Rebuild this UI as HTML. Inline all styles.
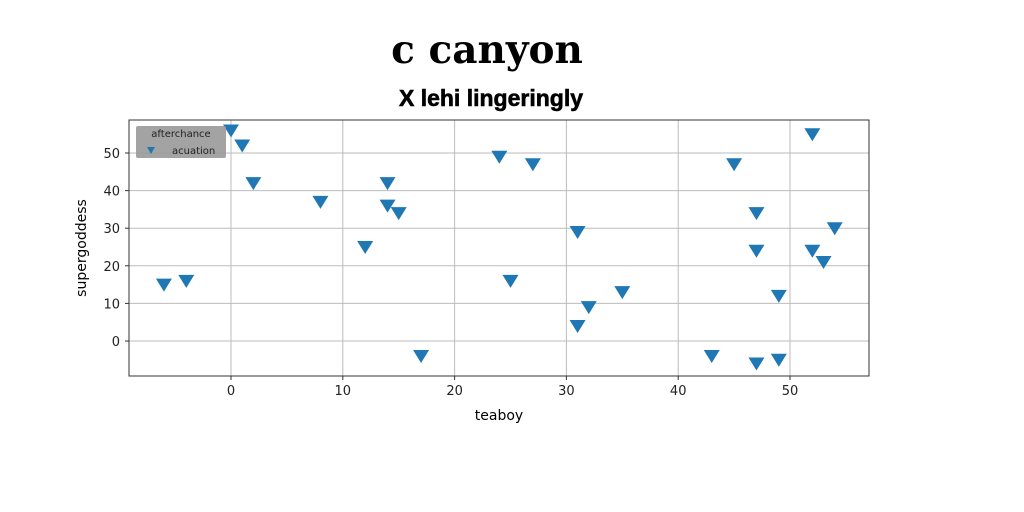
<!DOCTYPE html>
<html><head><meta charset="utf-8"><style>
body{margin:0;background:#fff;}
svg{display:block;font-family:"DejaVu Sans","Liberation Sans",sans-serif;}
</style></head><body>
<svg id="chart" width="1024" height="512" viewBox="0 0 1024 512">
<text x="487" y="63" text-anchor="middle" font-family="DejaVu Serif,Liberation Serif,serif" font-weight="bold" font-size="39">c canyon</text>
<text x="491" y="106" text-anchor="middle" font-family="Liberation Sans Narrow,Liberation Sans,sans-serif" font-weight="bold" font-size="23" stroke="#000" stroke-width="0.6">X lehi lingeringly</text>
<g id="grid"></g>
<g id="ticks"></g>
<rect x="129" y="120" width="740" height="256" fill="none" stroke="#333" stroke-width="1"/>
<g id="points"></g>
<text x="499" y="420" text-anchor="middle" font-size="14">teaboy</text>
<text x="86" y="248" text-anchor="middle" font-size="14" transform="rotate(-90 86 248)">supergoddess</text>
<g>
<rect x="136" y="126" width="90" height="32" rx="2" fill="#999" opacity="0.9"/>
<text x="181" y="137" text-anchor="middle" font-size="10" fill="#222">afterchance</text>
<path d="M147 147 L155 147 L151 154 Z" fill="#1f77b4"/>
<text x="172" y="154" font-size="10" fill="#222">acuation</text>
</g>
</svg>
<script>
const xs=[-6,-4,0,1,2,8,12,14,14,15,17,24,25,27,31,31,32,35,43,45,47,47,47,49,49,52,52,53,54];
const ys=[15,16,56,52,42,37,25,42,36,34,-4,49,16,47,29,4,9,13,-4,47,34,24,-6,12,-5,55,24,21,30];
const xTicks=[0,10,20,30,40,50];
const yTicks=[0,10,20,30,40,50];
const X=v=>231+v*11.18, Y=v=>341-v*3.76;
const NS="http://www.w3.org/2000/svg";
const g=document.getElementById('grid'),t=document.getElementById('ticks'),p=document.getElementById('points');
function mk(tag,a,par){const e=document.createElementNS(NS,tag);for(const k in a)e.setAttribute(k,a[k]);par.appendChild(e);return e;}
xTicks.forEach(v=>{
 const l=mk('line',{x1:X(v),x2:X(v),y1:120,y2:376,stroke:'#bbb','stroke-width':1},g);
 
 
 mk('line',{x1:X(v),x2:X(v),y1:376,y2:380,stroke:'#333'},t);
 const s=mk('text',{x:X(v),y:395,'text-anchor':'middle','font-size':13,fill:'#222'},t);s.textContent=v;
 
 
});
yTicks.forEach(v=>{
 const l=mk('line',{x1:129,x2:869,y1:Y(v),y2:Y(v),stroke:'#bbb','stroke-width':1},g);
 
 
 mk('line',{x1:125,x2:129,y1:Y(v),y2:Y(v),stroke:'#333'},t);
 const s=mk('text',{x:120,y:Y(v)+5,'text-anchor':'end','font-size':13,fill:'#222'},t);s.textContent=v;
 
 
});
xs.forEach((v,i)=>{
 const cx=X(v),cy=Y(ys[i]);
 const e=mk('path',{d:`M${cx-8} ${cy-6} L${cx+8} ${cy-6} L${cx} ${cy+7} Z`,fill:'#1f77b4'},p);
 
 
});
</script>
</body></html>
